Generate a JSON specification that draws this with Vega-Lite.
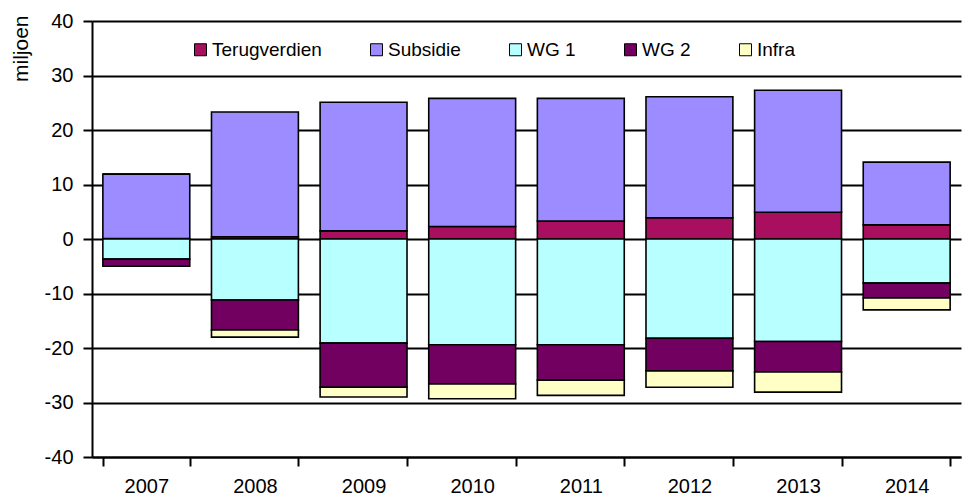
{
  "$schema": "https://vega.github.io/schema/vega-lite/v6.json",
  "autosize": "none",
  "width": 869,
  "height": 436,
  "padding": {"left": 92, "top": 21, "right": 1, "bottom": 44},
  "background": "white",
  "config": {
    "font": "Liberation Sans",
    "view": {"stroke": null},
    "axis": {"labelFont": "Liberation Sans", "titleFont": "Liberation Sans"}
  },
  "data": {
    "values": [
      {"year": "2007", "series": "Terugverdien", "ord": 1, "value": 0.1},
      {"year": "2007", "series": "Subsidie", "ord": 2, "value": 11.8},
      {"year": "2007", "series": "WG 1", "ord": 3, "value": -3.7},
      {"year": "2007", "series": "WG 2", "ord": 4, "value": -1.3},
      {"year": "2007", "series": "Infra", "ord": 5, "value": 0},
      {"year": "2008", "series": "Terugverdien", "ord": 1, "value": 0.4},
      {"year": "2008", "series": "Subsidie", "ord": 2, "value": 22.9},
      {"year": "2008", "series": "WG 1", "ord": 3, "value": -11.2},
      {"year": "2008", "series": "WG 2", "ord": 4, "value": -5.5},
      {"year": "2008", "series": "Infra", "ord": 5, "value": -1.3},
      {"year": "2009", "series": "Terugverdien", "ord": 1, "value": 1.5},
      {"year": "2009", "series": "Subsidie", "ord": 2, "value": 23.6},
      {"year": "2009", "series": "WG 1", "ord": 3, "value": -19.1},
      {"year": "2009", "series": "WG 2", "ord": 4, "value": -8.1},
      {"year": "2009", "series": "Infra", "ord": 5, "value": -1.8},
      {"year": "2010", "series": "Terugverdien", "ord": 1, "value": 2.3},
      {"year": "2010", "series": "Subsidie", "ord": 2, "value": 23.5},
      {"year": "2010", "series": "WG 1", "ord": 3, "value": -19.4},
      {"year": "2010", "series": "WG 2", "ord": 4, "value": -7.2},
      {"year": "2010", "series": "Infra", "ord": 5, "value": -2.7},
      {"year": "2011", "series": "Terugverdien", "ord": 1, "value": 3.3},
      {"year": "2011", "series": "Subsidie", "ord": 2, "value": 22.5},
      {"year": "2011", "series": "WG 1", "ord": 3, "value": -19.4},
      {"year": "2011", "series": "WG 2", "ord": 4, "value": -6.5},
      {"year": "2011", "series": "Infra", "ord": 5, "value": -2.8},
      {"year": "2012", "series": "Terugverdien", "ord": 1, "value": 3.9},
      {"year": "2012", "series": "Subsidie", "ord": 2, "value": 22.2},
      {"year": "2012", "series": "WG 1", "ord": 3, "value": -18.2},
      {"year": "2012", "series": "WG 2", "ord": 4, "value": -6.0},
      {"year": "2012", "series": "Infra", "ord": 5, "value": -3.0},
      {"year": "2013", "series": "Terugverdien", "ord": 1, "value": 4.9},
      {"year": "2013", "series": "Subsidie", "ord": 2, "value": 22.4},
      {"year": "2013", "series": "WG 1", "ord": 3, "value": -18.8},
      {"year": "2013", "series": "WG 2", "ord": 4, "value": -5.6},
      {"year": "2013", "series": "Infra", "ord": 5, "value": -3.7},
      {"year": "2014", "series": "Terugverdien", "ord": 1, "value": 2.6},
      {"year": "2014", "series": "Subsidie", "ord": 2, "value": 11.5},
      {"year": "2014", "series": "WG 1", "ord": 3, "value": -8.1},
      {"year": "2014", "series": "WG 2", "ord": 4, "value": -2.7},
      {"year": "2014", "series": "Infra", "ord": 5, "value": -2.2}
    ]
  },
  "mark": {"type": "bar", "stroke": "black", "strokeWidth": 1.6, "opacity": 1},
  "encoding": {
    "x": {
      "field": "year",
      "type": "ordinal",
      "scale": {"paddingInner": 0.2, "paddingOuter": 0.1},
      "axis": {
        "title": null,
        "labelAngle": 0,
        "labelFontSize": 20,
        "labelColor": "black",
        "labelPadding": 10,
        "tickBand": "extent",
        "tickSize": 9,
        "tickColor": "black",
        "tickWidth": 2,
        "domainColor": "black",
        "domainWidth": 2,
        "grid": false
      }
    },
    "y": {
      "field": "value",
      "type": "quantitative",
      "stack": "zero",
      "scale": {"domain": [-40, 40], "nice": false, "zero": true},
      "axis": {
        "title": "miljoen",
        "titleFontSize": 21,
        "titleFontWeight": "normal",
        "titleColor": "black",
        "titleAngle": -90,
        "titleAlign": "right",
        "titleBaseline": "middle",
        "titleX": -71,
        "titleY": -6,
        "values": [-40, -30, -20, -10, 0, 10, 20, 30, 40],
        "labelExpr": "'' + datum.value",
        "labelFontSize": 20,
        "labelColor": "black",
        "labelPadding": 10,
        "tickSize": 9,
        "tickColor": "black",
        "tickWidth": 2,
        "domainColor": "black",
        "domainWidth": 2,
        "grid": true,
        "gridColor": "black",
        "gridWidth": 2,
        "gridOpacity": 1
      }
    },
    "color": {
      "field": "series",
      "type": "nominal",
      "scale": {
        "domain": ["Terugverdien", "Subsidie", "WG 1", "WG 2", "Infra"],
        "range": ["#a80f5f", "#9c8cff", "#b8ffff", "#720060", "#ffffc6"]
      },
      "legend": {
        "title": null,
        "orient": "none",
        "direction": "horizontal",
        "legendX": 99,
        "legendY": 19,
        "padding": 0,
        "symbolType": "square",
        "symbolSize": 144,
        "symbolStrokeColor": "black",
        "symbolStrokeWidth": 1,
        "symbolOpacity": 1,
        "labelFontSize": 19,
        "labelColor": "black",
        "labelOffset": 2,
        "columnPadding": 45,
        "fillColor": null,
        "strokeColor": null
      }
    },
    "order": {"field": "ord", "type": "quantitative", "sort": "ascending"}
  }
}
